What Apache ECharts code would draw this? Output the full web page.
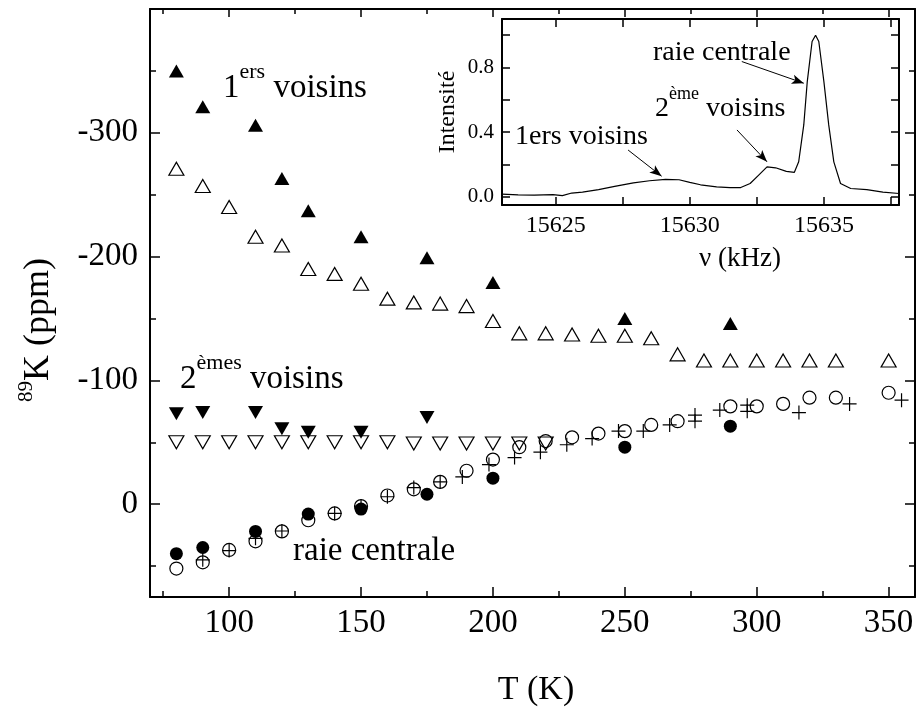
<!DOCTYPE html>
<html>
<head>
<meta charset="utf-8">
<title>89K (ppm) en fonction de T</title>
<script src="https://cdn.jsdelivr.net/npm/echarts@6.0.0/dist/echarts.min.js"></script>
<style>
  html, body { margin: 0; padding: 0; background: #fff; }
  #chart { width: 918px; height: 709px; }
</style>
</head>
<body>
<div id="chart"></div>
<script>
const FONT = 'Liberation Serif';

// --- main panel: T (K) -> 89K (ppm) ---
// 1ers voisins
const tFirstSolid = [80, 90, 110, 120, 130, 150, 175, 200, 250, 290];
const kFirstSolid = [-350, -321, -306, -263, -237, -216, -199, -179, -150, -146];
const tFirstOpen = [80, 90, 100, 110, 120, 130, 140, 150, 160, 170, 180, 190, 200, 210, 220, 230, 240, 250, 260, 270, 280, 290, 300, 310, 320, 330, 350];
const kFirstOpen = [-271, -257, -240, -216, -209, -190, -186, -178, -166, -163, -162, -160, -148, -138, -138, -137, -136, -136, -134, -121, -116, -116, -116, -116, -116, -116, -116];
// 2emes voisins
const tSecondSolid = [80, 90, 110, 120, 130, 150, 175];
const kSecondSolid = [-73, -74, -74, -61, -58, -58, -70];
const tSecondOpen = [80, 90, 100, 110, 120, 130, 140, 150, 160, 170, 180, 190, 200, 210, 220];
const kSecondOpen = [-50, -50, -50, -50, -50, -50, -50, -50, -50, -49, -49, -49, -49, -49, -49];
// raie centrale
const tCentralSolid = [80, 90, 110, 130, 150, 175, 200, 250, 290];
const kCentralSolid = [40, 35, 22, 8, 4, -8, -21, -46, -63];
const tCentralOpen = [80, 90, 100, 110, 120, 130, 140, 150, 160, 170, 180, 190, 200, 210, 220, 230, 240, 250, 260, 270, 290, 300, 310, 320, 330, 350];
const kCentralOpen = [52, 47, 37, 30, 22, 13, 7.5, 1.6, -7, -12, -18, -27, -36, -46, -51, -54, -57, -59, -64, -67, -79, -79, -81, -86, -86, -90];
const tCentralCross = [90, 100, 110, 120, 140, 150, 160, 170, 180, 188.4, 198.5, 208.2, 218, 228, 237.6, 247.6, 257, 267, 276.6, 276.6, 286, 296.4, 296.4, 316, 335.2, 354.9];
const kCentralCross = [45, 37.5, 27.6, 21.7, 7.5, 1.6, -6, -13.4, -18, -22, -32, -37.6, -42, -48, -53, -59, -59, -64, -72, -67, -76, -80, -75, -74, -81, -84];

const tTickMajor = [100, 150, 200, 250, 300, 350];
const tTickMinor = [75, 125, 175, 225, 275, 325];
const kTickMajor = [-300, -200, -100, 0];
const kTickMinor = [-350, -250, -150, -50, 50];

// --- inset: spectrum ---
const nuFreq = [15623.0, 15623.6, 15624.2, 15624.9, 15625.25, 15625.6, 15626.0, 15626.6, 15627.2, 15627.9, 15628.5, 15629.1, 15629.6, 15630.0, 15630.4, 15631.0, 15631.5, 15631.9, 15632.25, 15632.57, 15632.88, 15633.2, 15633.6, 15633.9, 15634.06, 15634.25, 15634.38, 15634.56, 15634.69, 15634.81, 15635.0, 15635.18, 15635.37, 15635.62, 15636.0, 15636.6, 15637.2, 15637.8];
const nuIntensity = [0.017, 0.013, 0.011, 0.014, 0.008, 0.024, 0.03, 0.045, 0.065, 0.087, 0.1, 0.108, 0.106, 0.09, 0.075, 0.062, 0.057, 0.058, 0.083, 0.135, 0.186, 0.18, 0.158, 0.152, 0.217, 0.445, 0.713, 0.961, 1.0, 0.961, 0.713, 0.445, 0.217, 0.083, 0.052, 0.045, 0.03, 0.021];
const nuTicks = [15625, 15627.5, 15630, 15632.5, 15635, 15637.5];
const nuLabels = [15625, 15630, 15635];
const intTicks = [0, 0.2, 0.4, 0.6, 0.8, 1.0];
const intLabels = [0, 0.4, 0.8];
// annotation arrows in the inset, [from, to] in data units
const arrowFrom = [[15631.94, 0.837], [15631.76, 0.414], [15627.70, 0.29]];
const arrowTo = [[15634.25, 0.703], [15632.88, 0.217], [15628.95, 0.128]];

const pairs = (xs, ys) => xs.map((x, i) => [x, ys[i]]);

function axis(o) {
  return {
    type: 'value',
    gridIndex: o.grid,
    position: o.position,
    min: o.min,
    max: o.max,
    inverse: !!o.inverse,
    axisLine: { show: !!o.line, onZero: false, lineStyle: { color: '#000', width: 2 } },
    axisTick: { show: true, inside: true, length: o.len, customValues: o.ticks, lineStyle: { color: '#000', width: 1.5 } },
    axisLabel: o.labels
      ? { show: true, customValues: o.labels, color: '#000', fontFamily: FONT, fontSize: o.fontSize, margin: o.margin, formatter: o.formatter }
      : { show: false },
    splitLine: { show: false }
  };
}

const hollow = { color: 'rgba(0,0,0,0)', borderColor: '#000', borderWidth: 1.2, opacity: 1 };
const solid = { color: '#000', opacity: 1 };
function scatter(xs, ys, symbol, size, style, rotate) {
  return {
    type: 'scatter', xAxisIndex: 0, yAxisIndex: 0,
    symbol: symbol, symbolSize: size, symbolRotate: rotate || 0,
    itemStyle: style, data: pairs(xs, ys),
    emphasis: { disabled: true }, animation: false
  };
}

function label(x, y, text, size, rich, extra) {
  return Object.assign({
    type: 'text', x: x, y: y,
    style: {
      text: text, fill: '#000', fontFamily: FONT, fontSize: size,
      align: 'left', textAlign: 'left', verticalAlign: 'middle', textVerticalAlign: 'middle',
      rich: rich || undefined
    }
  }, extra || {});
}
function centred(g) {
  g.style.align = 'center';
  g.style.textAlign = 'center';
  return g;
}

const mainRich = {
  n: { fontFamily: FONT, fontSize: 33, verticalAlign: 'bottom' },
  s: { fontFamily: FONT, fontSize: 22, verticalAlign: 'bottom', padding: [0, 0, 21, 0] }
};
const insetRich = {
  n: { fontFamily: FONT, fontSize: 28, verticalAlign: 'bottom' },
  s: { fontFamily: FONT, fontSize: 18, verticalAlign: 'bottom', padding: [0, 0, 19, 0] }
};
const yTitleRich = {
  n: { fontFamily: FONT, fontSize: 36, verticalAlign: 'bottom' },
  s: { fontFamily: FONT, fontSize: 21, verticalAlign: 'bottom', padding: [0, 0, 20, 0] }
};

const chart = echarts.init(document.getElementById('chart'));
const fmt = v => String(v);

chart.setOption({
  animation: false,
  backgroundColor: '#fff',
  grid: [
    { left: 150, top: 9, width: 765, height: 588 },
    { left: 502, top: 19, width: 397, height: 186 }
  ],
  xAxis: [
    axis({ grid: 0, position: 'bottom', min: 70, max: 360, line: true, len: 10, ticks: tTickMajor, labels: tTickMajor, fontSize: 33, margin: 10, formatter: fmt }),
    axis({ grid: 0, position: 'bottom', min: 70, max: 360, len: 6, ticks: tTickMinor }),
    axis({ grid: 0, position: 'top', min: 70, max: 360, line: true, len: 8, ticks: tTickMajor }),
    axis({ grid: 0, position: 'top', min: 70, max: 360, len: 5, ticks: tTickMinor }),
    axis({ grid: 1, position: 'bottom', min: 15623, max: 15637.8, line: true, len: 8, ticks: nuTicks, labels: nuLabels, fontSize: 24, margin: 9, formatter: fmt }),
    axis({ grid: 1, position: 'top', min: 15623, max: 15637.8, line: true, len: 8, ticks: nuTicks })
  ],
  yAxis: [
    axis({ grid: 0, position: 'left', min: -400, max: 75, inverse: true, line: true, len: 10, ticks: kTickMajor, labels: kTickMajor, fontSize: 33, margin: 12, formatter: fmt }),
    axis({ grid: 0, position: 'left', min: -400, max: 75, inverse: true, len: 6, ticks: kTickMinor }),
    axis({ grid: 0, position: 'right', min: -400, max: 75, inverse: true, line: true, len: 10, ticks: kTickMajor }),
    axis({ grid: 0, position: 'right', min: -400, max: 75, inverse: true, len: 6, ticks: kTickMinor }),
    axis({ grid: 1, position: 'left', min: -0.05, max: 1.1, line: true, len: 8, ticks: intTicks, labels: intLabels, fontSize: 21, margin: 8, formatter: v => v.toFixed(1) }),
    axis({ grid: 1, position: 'right', min: -0.05, max: 1.1, line: true, len: 8, ticks: intTicks })
  ],
  series: [
    scatter(tFirstOpen, kFirstOpen, 'triangle', [15, 13], hollow),
    scatter(tSecondOpen, kSecondOpen, 'triangle', [15, 13], hollow, 180),
    scatter(tCentralOpen, kCentralOpen, 'circle', 13, hollow),
    scatter(tCentralCross, kCentralCross, 'path://M0,6L12,6M6,0L6,12', 14, hollow),
    scatter(tCentralSolid, kCentralSolid, 'circle', 13, solid),
    scatter(tFirstSolid, kFirstSolid, 'triangle', [15, 13], solid),
    scatter(tSecondSolid, kSecondSolid, 'triangle', [15, 13], solid, 180),
    {
      type: 'line', xAxisIndex: 4, yAxisIndex: 4,
      data: pairs(nuFreq, nuIntensity),
      symbol: 'none', showSymbol: false,
      lineStyle: { color: '#000', width: 1.2 },
      emphasis: { disabled: true }, animation: false,
      markLine: {
        silent: true, animation: false,
        symbol: ['none', 'arrow'], symbolSize: [7, 12],
        label: { show: false },
        lineStyle: { color: '#000', width: 1, type: 'solid' },
        data: arrowFrom.map((p, i) => [{ coord: p }, { coord: arrowTo[i] }])
      }
    }
  ],
  graphic: [
    label(223, 83, '{n|1}{s|ers}{n| voisins}', 33, mainRich),
    label(180, 374, '{n|2}{s|èmes}{n| voisins}', 33, mainRich),
    label(293, 551, 'raie centrale', 33),
    label(653, 53, 'raie centrale', 28),
    label(655, 104, '{n|2}{s|ème}{n| voisins}', 28, insetRich),
    label(515, 137, '1ers voisins', 28),
    centred(label(536, 690, 'T (K)', 34)),
    centred(label(36, 330, '{s|89}{n|K (ppm)}', 36, yTitleRich, { rotation: Math.PI / 2 })),
    centred(label(448, 112, 'Intensité', 24, null, { rotation: Math.PI / 2 })),
    centred(label(740, 259, 'ν (kHz)', 27))
  ]
});
</script>
</body>
</html>
